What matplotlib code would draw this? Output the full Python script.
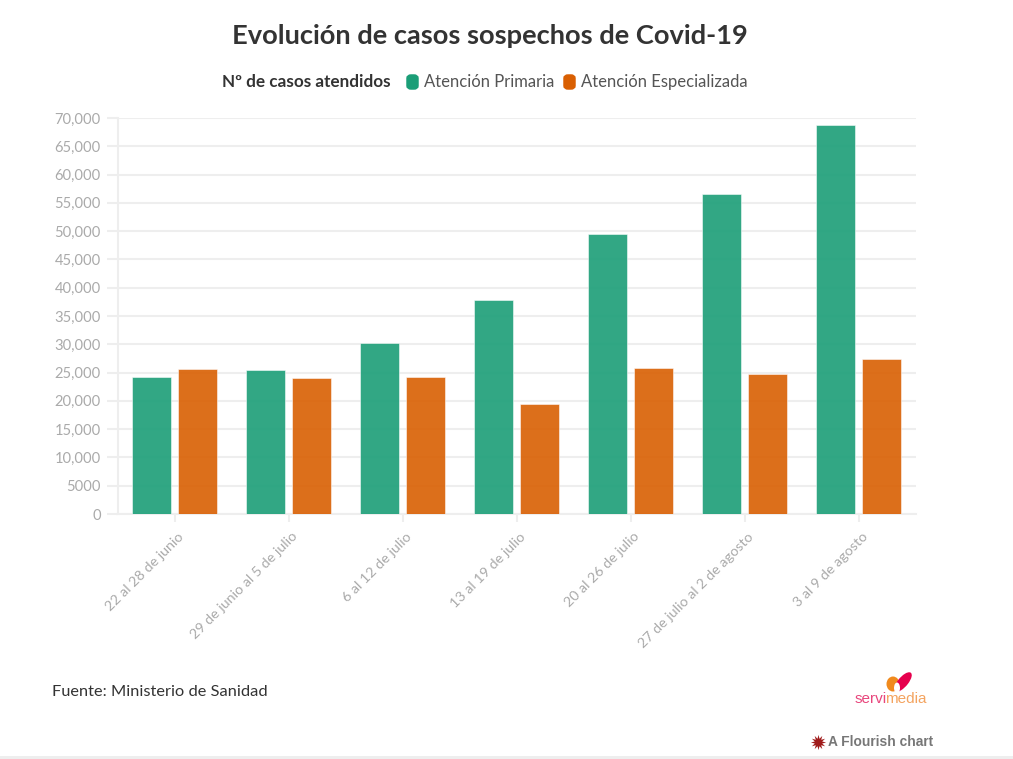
import matplotlib
matplotlib.use("Agg")
import matplotlib.pyplot as plt
from matplotlib.patches import Ellipse, Rectangle, FancyBboxPatch
from matplotlib.transforms import ScaledTranslation
import numpy as np

plt.rcParams["font.family"] = ["Lato", "DejaVu Sans"]

W, H = 1013, 759

semanas = ["22 al 28 de junio", "29 de junio al 5 de julio", "6 al 12 de julio",
           "13 al 19 de julio", "20 al 26 de julio", "27 de julio al 2 de agosto",
           "3 al 9 de agosto"]
primaria = [24300, 25400, 30150, 37750, 49450, 56650, 68750]
especializada = [25650, 24000, 24150, 19400, 25850, 24750, 27450]
y_ticks = list(range(0, 70001, 5000))
y_labels = ["0", "5000", "10,000", "15,000", "20,000", "25,000", "30,000", "35,000",
            "40,000", "45,000", "50,000", "55,000", "60,000", "65,000", "70,000"]

VERDE = "#1b9e77"
NARANJA = "#d95f02"


def px(x, y):
    # pixel position in the image to figure fraction
    return x / W, 1 - y / H


fig = plt.figure(figsize=(W / 100, H / 100), dpi=100)
ax = fig.add_axes([117.5 / W, 1 - 514 / H, 798 / W, 396 / H])

x = np.arange(len(semanas))
bar_w = 39 / 114
off = 22.75 / 114
ax.bar(x - off, primaria, bar_w, color=VERDE, alpha=0.9, edgecolor="white", linewidth=0.4, zorder=3)
ax.bar(x + off, especializada, bar_w, color=NARANJA, alpha=0.9, edgecolor="white", linewidth=0.4, zorder=3)

ax.set_xlim(-0.5, 6.5)
ax.set_ylim(0, 70000)
ax.set_yticks(y_ticks)
ax.set_yticklabels(y_labels)
ax.set_xticks(x)
ax.set_xticklabels(semanas, rotation=45, ha="right", rotation_mode="anchor")
ax.grid(axis="y", color="#eeeeee", linewidth=1.5, zorder=0)
ax.set_axisbelow(True)
ax.tick_params(axis="y", length=8, width=1.5, color="#eeeeee", labelcolor="#aaaaaa", labelsize=10.6, pad=4)
ax.tick_params(axis="x", length=6, width=1.5, color="#eeeeee", labelcolor="#aaaaaa", labelsize=10.3, pad=5)
shift = ScaledTranslation(3 / 100, -1 / 100, fig.dpi_scale_trans)
for lab in ax.get_xticklabels():
    lab.set_transform(lab.get_transform() + shift)
for s in ["top", "right"]:
    ax.spines[s].set_visible(False)
for s in ["left", "bottom"]:
    ax.spines[s].set_color("#eeeeee")
    ax.spines[s].set_linewidth(1.5)

# title and legend
fig.text(*px(490, 36), "Evolución de casos sospechos de Covid-19", ha="center", va="center",
         fontsize=19.65, fontweight="bold", color="#333333")
fig.text(*px(222, 82), "Nº de casos atendidos", ha="left", va="center", fontsize=12.3,
         fontweight="bold", color="#333333")
for lx, color, label in [(406, VERDE, "Atención Primaria"), (563, NARANJA, "Atención Especializada")]:
    fig.add_artist(FancyBboxPatch(px(lx + 2, 88), 9 / W, 12 / H, boxstyle="round,pad=0,rounding_size=0.003",
                                  transform=fig.transFigure, fc=color, ec=color, lw=2.5))
    fig.text(*px(lx + 18, 82), label, ha="left", va="center", fontsize=12, color="#555555")

fig.text(*px(52, 692), "Fuente: Ministerio de Sanidad", ha="left", va="center", fontsize=11.8, color="#333333")

# servimedia logo
fig.add_artist(Ellipse(px(893, 684), 13 / W, 15 / H, transform=fig.transFigure, fc="#f08a1d", ec="none"))
fig.add_artist(Ellipse(px(903, 682), 11 / W, 22 / H, angle=-30, transform=fig.transFigure, fc="#e6004d", ec="none"))
fig.add_artist(Ellipse(px(897, 688), 6 / W, 11 / H, transform=fig.transFigure, fc="white", ec="none"))
fig.text(*px(855, 699), "servi", ha="left", va="center", fontsize=11, color="#e8467c",
         family=["Liberation Sans Narrow", "Liberation Sans"])
fig.text(*px(885, 699), "media", ha="left", va="center", fontsize=11, color="#f4a460",
         family=["Liberation Sans Narrow", "Liberation Sans"])

# Flourish credit
fig.text(*px(828, 742), "A Flourish chart", ha="left", va="center", fontsize=9.9, fontweight="bold",
         color="#777777", family="Liberation Sans")
fig.add_artist(plt.Line2D([818 / W], [1 - 742 / H], marker=(12, 1, 0), markersize=11, color="#a01c1c",
                          transform=fig.transFigure, linestyle="none", markeredgewidth=0))

# grey strip along the bottom edge
fig.add_artist(Rectangle((0, 0), 1, 3 / H, transform=fig.transFigure, fc="#eeeeee", ec="none"))

fig.savefig("out.png", dpi=100)
